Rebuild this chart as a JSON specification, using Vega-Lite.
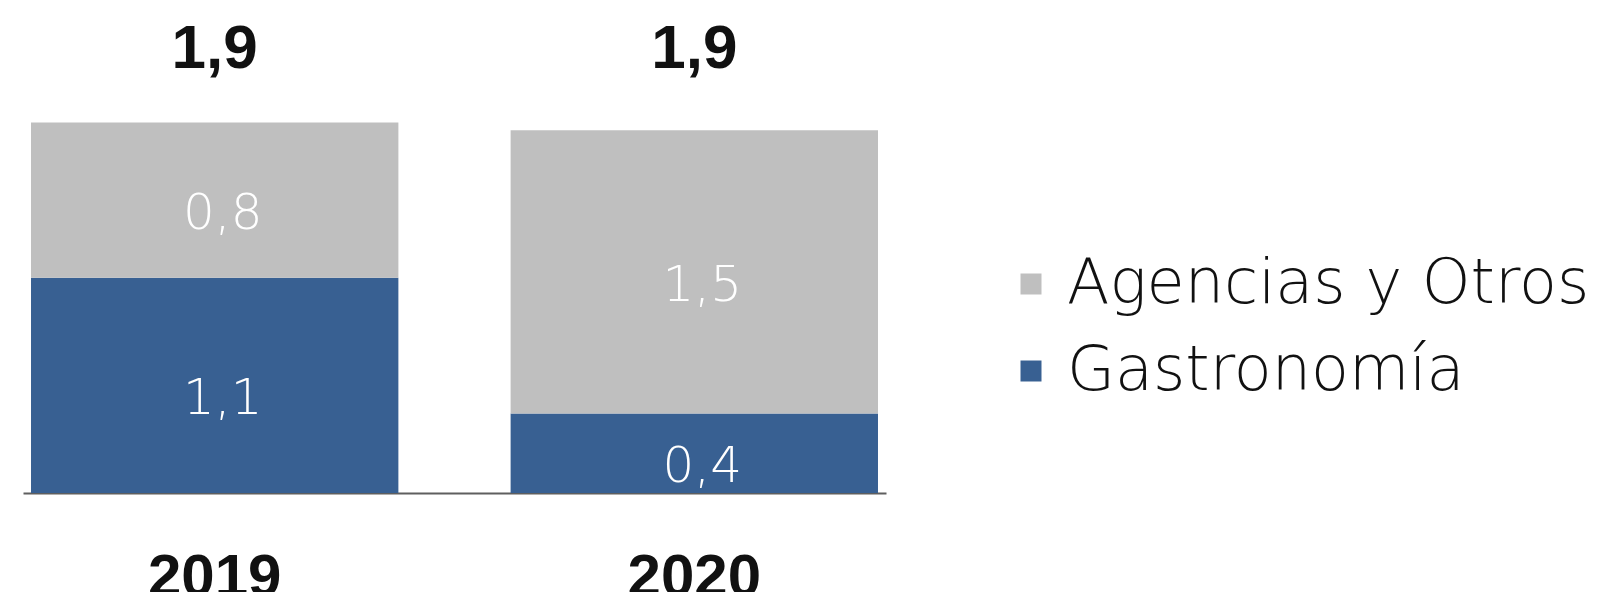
{
  "$schema": "https://vega.github.io/schema/vega-lite/v6.json",
  "width": 863,
  "height": 485,
  "padding": {"left": 23, "top": 8, "right": 0, "bottom": 0},
  "background": "white",
  "config": {
    "view": {"stroke": null},
    "locale": {"number": {"decimal": ",", "thousands": ".", "grouping": [3], "currency": ["", " €"]}}
  },
  "data": {
    "values": [
      {"Año": "2019", "Serie": "Gastronomía", "value": 1.11},
      {"Año": "2019", "Serie": "Agencias y Otros", "value": 0.80},
      {"Año": "2020", "Serie": "Gastronomía", "value": 0.41},
      {"Año": "2020", "Serie": "Agencias y Otros", "value": 1.46}
    ]
  },
  "encoding": {
    "x": {
      "field": "Año",
      "type": "nominal",
      "scale": {"paddingInner": 0.234, "paddingOuter": 0.0167},
      "axis": {
        "title": null,
        "labelAngle": 0,
        "ticks": false,
        "domainColor": "#5f5f5f",
        "domainWidth": 2,
        "labelFont": "Liberation Sans",
        "labelFontWeight": "bold",
        "labelFontSize": 60,
        "labelColor": "#111111",
        "labelBaseline": "alphabetic",
        "labelPadding": 102
      }
    }
  },
  "layer": [
    {
      "mark": {"type": "bar"},
      "encoding": {
        "y": {"field": "value", "type": "quantitative", "stack": "zero", "scale": {"domain": [0, 2.5], "nice": false}, "axis": null},
        "color": {
          "field": "Serie",
          "type": "nominal",
          "scale": {"domain": ["Agencias y Otros", "Gastronomía"], "range": ["#bfbfbf", "#386092"]},
          "legend": {
            "title": null,
            "orient": "none",
            "legendX": 977,
            "legendY": 245,
            "padding": 0,
            "symbolType": "square",
            "symbolSize": 441,
            "symbolStrokeWidth": 0,
            "labelFont": "DejaVu Sans",
            "labelFontWeight": 200,
            "labelFontSize": 62,
            "labelColor": "#111111",
            "labelOffset": 5,
            "labelLimit": 700,
            "rowPadding": 25,
            "encode": {"symbols": {"update": {"fill": {"signal": "datum.value === 'Agencias y Otros' ? '#a6a6a6' : '#386092'"}, "opacity": {"value": 1}}}}
          }
        },
        "order": {"field": "Serie", "sort": "descending"}
      }
    },
    {
      "transform": [
        {"stack": "value", "groupby": ["Año"], "sort": [{"field": "Serie", "order": "descending"}], "as": ["v0", "v1"]},
        {"calculate": "(datum.v0 + datum.v1) / 2", "as": "mid"}
      ],
      "mark": {"type": "text", "color": "white", "font": "DejaVu Sans", "fontWeight": 200, "fontSize": 50, "baseline": "alphabetic", "dy": 29, "dx": 8},
      "encoding": {
        "y": {"field": "mid", "type": "quantitative"},
        "text": {"field": "value", "type": "quantitative", "format": ".1f"}
      }
    },
    {
      "mark": {"type": "text", "color": "#111111", "font": "Liberation Sans", "fontWeight": "bold", "fontSize": 62, "baseline": "alphabetic"},
      "encoding": {
        "y": {"datum": 2.19},
        "text": {"aggregate": "sum", "field": "value", "type": "quantitative", "format": ".1f"}
      }
    }
  ]
}
